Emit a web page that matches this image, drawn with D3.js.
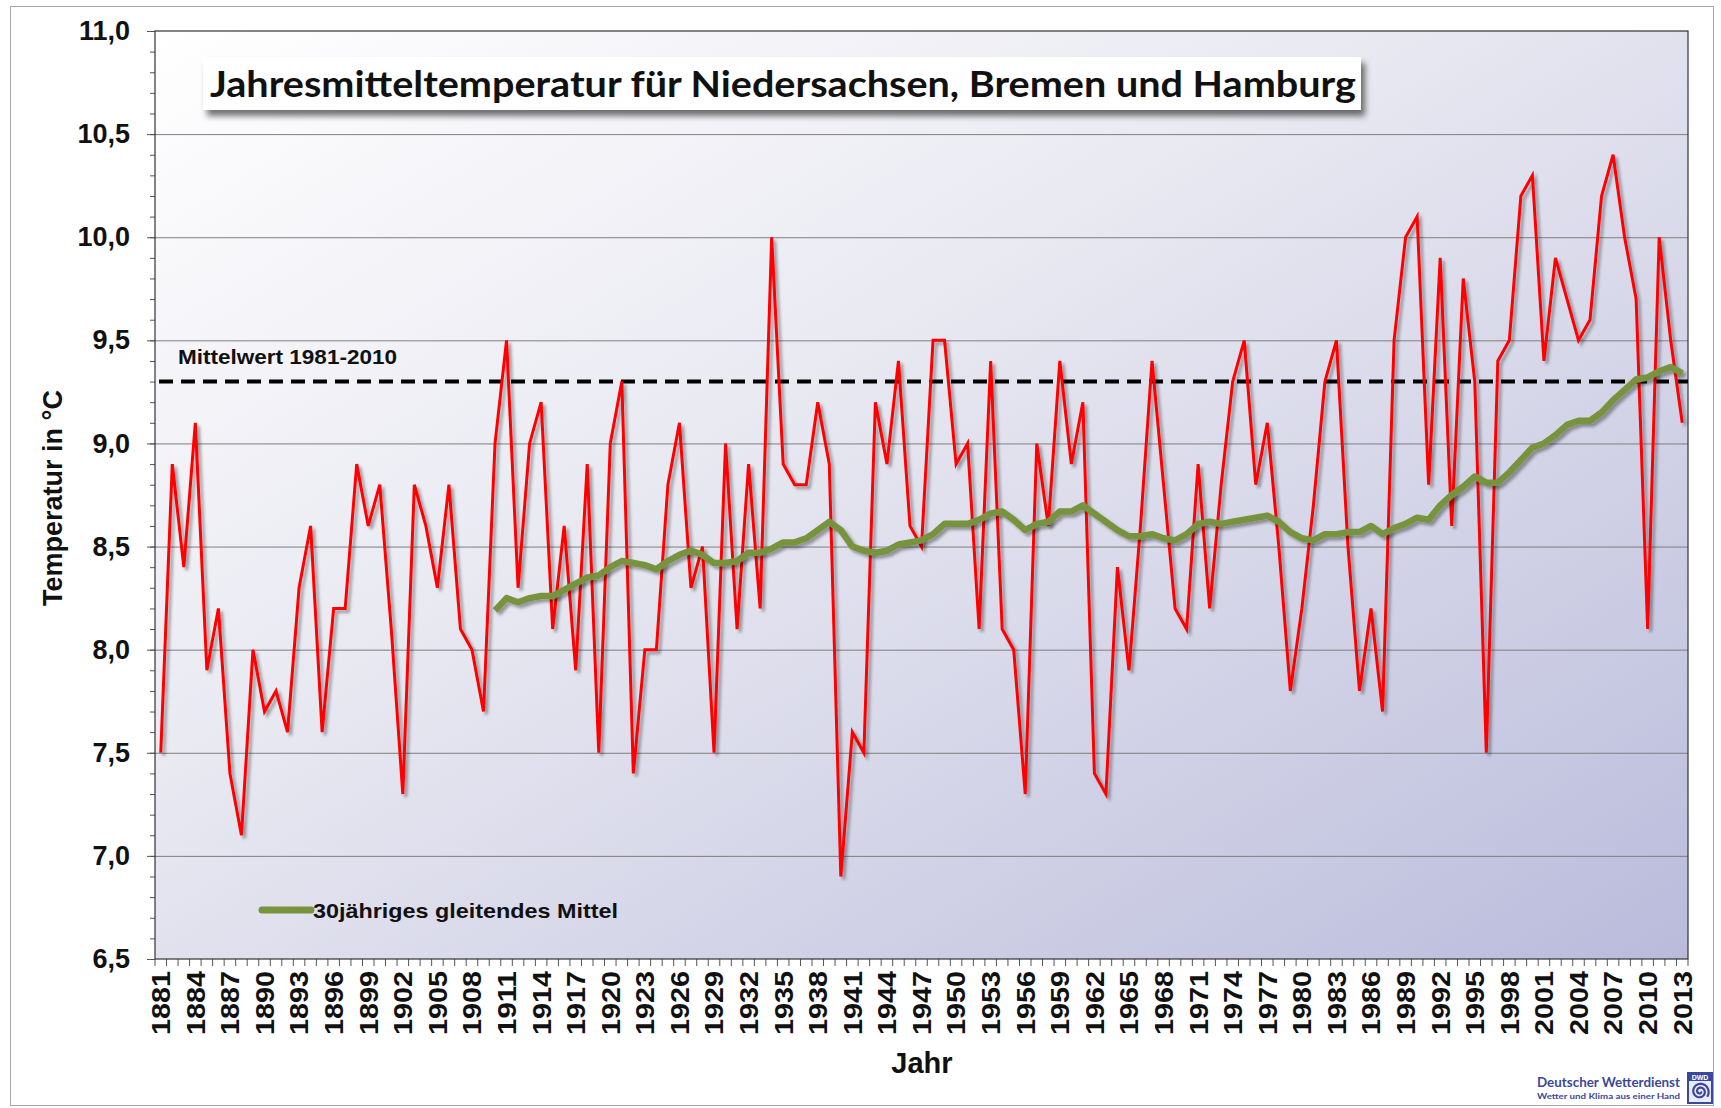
<!DOCTYPE html>
<meta charset="utf-8">
<script src="https://d3js.org/d3.v7.min.js"></script>
<style>
body { margin: 0; background: #fff; }
text { font-family: "Liberation Sans", Arial, sans-serif; font-weight: bold; fill: #111; }
.grid line { stroke: #7f7f7f; stroke-width: 1; }
.grid path { display: none; }
</style>
<body>
<script>
// Jahresmitteltemperatur Niedersachsen, Bremen und Hamburg
const years = d3.range(1881, 2014);
const temps = [
  7.5, 8.9, 8.4, 9.1, 7.9, 8.2, 7.4, 7.1, 8.0, 7.7,   // 1881-1890
  7.8, 7.6, 8.3, 8.6, 7.6, 8.2, 8.2, 8.9, 8.6, 8.8,   // 1891-1900
  8.1, 7.3, 8.8, 8.6, 8.3, 8.8, 8.1, 8.0, 7.7, 9.0,   // 1901-1910
  9.5, 8.3, 9.0, 9.2, 8.1, 8.6, 7.9, 8.9, 7.5, 9.0,   // 1911-1920
  9.3, 7.4, 8.0, 8.0, 8.8, 9.1, 8.3, 8.5, 7.5, 9.0,   // 1921-1930
  8.1, 8.9, 8.2, 10.0, 8.9, 8.8, 8.8, 9.2, 8.9, 6.9,  // 1931-1940
  7.6, 7.5, 9.2, 8.9, 9.4, 8.6, 8.5, 9.5, 9.5, 8.9,   // 1941-1950
  9.0, 8.1, 9.4, 8.1, 8.0, 7.3, 9.0, 8.6, 9.4, 8.9,   // 1951-1960
  9.2, 7.4, 7.3, 8.4, 7.9, 8.6, 9.4, 8.8, 8.2, 8.1,   // 1961-1970
  8.9, 8.2, 8.8, 9.3, 9.5, 8.8, 9.1, 8.5, 7.8, 8.2,   // 1971-1980
  8.7, 9.3, 9.5, 8.5, 7.8, 8.2, 7.7, 9.5, 10.0, 10.1, // 1981-1990
  8.8, 9.9, 8.6, 9.8, 9.3, 7.5, 9.4, 9.5, 10.2, 10.3, // 1991-2000
  9.4, 9.9, 9.7, 9.5, 9.6, 10.2, 10.4, 10.0, 9.7, 8.1,// 2001-2010
  10.0, 9.5, 9.1                                      // 2011-2013
];
// 30jähriges gleitendes Mittel, first value at 1910
const meanYears = d3.range(1910, 2014);
const mean30 = [
  8.19, 8.25, 8.23, 8.25, 8.26, 8.26, 8.29, 8.32, 8.35, 8.36, // 1910-1919
  8.40, 8.43, 8.42, 8.41, 8.39, 8.43, 8.46, 8.48, 8.46, 8.42, // 1920-1929
  8.42, 8.43, 8.47, 8.47, 8.49, 8.52, 8.52, 8.54, 8.58, 8.62, // 1930-1939
  8.58, 8.50, 8.48, 8.47, 8.48, 8.51, 8.52, 8.53, 8.56, 8.61, // 1940-1949
  8.61, 8.61, 8.63, 8.66, 8.67, 8.63, 8.58, 8.61, 8.62, 8.67, // 1950-1959
  8.67, 8.70, 8.66, 8.62, 8.58, 8.55, 8.55, 8.56, 8.54, 8.53, // 1960-1969
  8.56, 8.61, 8.62, 8.61, 8.62, 8.63, 8.64, 8.65, 8.62, 8.57, // 1970-1979
  8.54, 8.53, 8.56, 8.56, 8.57, 8.57, 8.60, 8.56, 8.59, 8.61, // 1980-1989
  8.64, 8.63, 8.70, 8.75, 8.79, 8.84, 8.81, 8.81, 8.86, 8.92, // 1990-1999
  8.98, 9.00, 9.04, 9.09, 9.11, 9.11, 9.15, 9.21, 9.26, 9.31, // 2000-2009
  9.32, 9.35, 9.37, 9.34                                      // 2010-2013
];
const refMean = 9.3; // Mittelwert 1981-2010
const yMajor = [6.5, 7.0, 7.5, 8.0, 8.5, 9.0, 9.5, 10.0, 10.5, 11.0];
const labelYears = years.filter((d, i) => i % 3 === 0);

const W = 1721, H = 1108;
const pLeft = 155, pRight = 1688, pTop = 31, pBottom = 959;
const titleFont = "Lato, 'Open Sans', sans-serif";

const de = d3.formatLocale({decimal: ",", thousands: ".", grouping: [3], currency: ["", " €"]});
const fmt = de.format(".1f");

const svg = d3.select("body").append("svg").attr("width", W).attr("height", H);
const defs = svg.append("defs");

const grad = defs.append("linearGradient").attr("id", "bg")
  .attr("x1", 0).attr("y1", 0).attr("x2", 1).attr("y2", 1);
grad.append("stop").attr("offset", 0).attr("stop-color", "#ffffff");
grad.append("stop").attr("offset", 0.4).attr("stop-color", "#e9e9f2");
grad.append("stop").attr("offset", 1).attr("stop-color", "#babbdb");

const sh = defs.append("filter").attr("id", "lineShadow")
  .attr("x", "-5%").attr("y", "-5%").attr("width", "110%").attr("height", "110%");
sh.append("feDropShadow").attr("dx", 3).attr("dy", 3).attr("stdDeviation", 1.6)
  .attr("flood-color", "#000").attr("flood-opacity", 0.35);

const boxSh = defs.append("filter").attr("id", "boxShadow")
  .attr("x", "-5%").attr("y", "-30%").attr("width", "110%").attr("height", "160%");
boxSh.append("feDropShadow").attr("dx", 4).attr("dy", 6).attr("stdDeviation", 3)
  .attr("flood-color", "#000").attr("flood-opacity", 0.55);

// outer frame
svg.append("rect").attr("x", 10.5).attr("y", 6.5).attr("width", 1703).attr("height", 1099)
  .attr("fill", "#fff").attr("stroke", "#a6a6a6");

const x = d3.scaleBand().domain(years).range([pLeft, pRight]);
const y = d3.scaleLinear().domain([6.5, 11]).range([pBottom, pTop]);
const cx = d => x(d) + x.bandwidth() / 2;

// plot background
svg.append("rect").attr("x", pLeft).attr("y", pTop)
  .attr("width", pRight - pLeft).attr("height", pBottom - pTop)
  .attr("fill", "url(#bg)");

// gridlines
svg.append("g").attr("class", "grid")
  .attr("transform", `translate(${pLeft},0)`)
  .call(d3.axisLeft(y).tickValues(yMajor.slice(1, -1)).tickSize(-(pRight - pLeft)).tickFormat(""));

// y axis: minor ticks, then major ticks with labels
svg.append("g").attr("transform", `translate(${pLeft},0)`)
  .call(d3.axisLeft(y).tickValues(d3.range(65, 111).map(v => v / 10)).tickSize(5).tickFormat(""))
  .call(g => g.select(".domain").remove())
  .call(g => g.selectAll("line").attr("stroke", "#555"));

svg.append("g").attr("transform", `translate(${pLeft},0)`)
  .call(d3.axisLeft(y).tickValues(yMajor).tickSize(8).tickPadding(17).tickFormat(fmt))
  .call(g => g.select(".domain").remove())
  .call(g => g.selectAll("line").attr("stroke", "#555"))
  .call(g => g.selectAll("text").attr("font-size", 27).attr("font-family", null).attr("fill", "#111"));

// x axis: boundary ticks and rotated year labels
svg.append("g").selectAll("line")
  .data(years)
  .join("line")
  .attr("x1", d => x(d)).attr("x2", d => x(d))
  .attr("y1", pBottom).attr("y2", pBottom + 7)
  .attr("stroke", "#555");
svg.append("line").attr("x1", pRight).attr("x2", pRight)
  .attr("y1", pBottom).attr("y2", pBottom + 7).attr("stroke", "#555");

svg.append("g").attr("transform", `translate(0,${pBottom})`)
  .call(d3.axisBottom(x).tickValues(labelYears).tickSize(0).tickPadding(0))
  .call(g => g.select(".domain").remove())
  .call(g => g.selectAll("text")
    .attr("font-size", 26).attr("font-family", null).attr("fill", "#111")
    .attr("transform", "rotate(-90)")
    .attr("x", -12).attr("y", 0).attr("dy", "0.36em")
    .attr("text-anchor", "end")
    .attr("textLength", 64).attr("lengthAdjust", "spacingAndGlyphs"));

// plot border
svg.append("rect").attr("x", pLeft).attr("y", pTop)
  .attr("width", pRight - pLeft).attr("height", pBottom - pTop)
  .attr("fill", "none").attr("stroke", "#333").attr("stroke-width", 1.2);

// reference mean 1981-2010
svg.append("line")
  .attr("x1", pLeft + 4).attr("x2", pRight)
  .attr("y1", y(refMean)).attr("y2", y(refMean))
  .attr("stroke", "#000").attr("stroke-width", 4).attr("stroke-dasharray", "14,8");
svg.append("text").attr("x", 178).attr("y", 364)
  .attr("font-size", 21).attr("textLength", 219).attr("lengthAdjust", "spacingAndGlyphs")
  .text("Mittelwert 1981-2010");

// annual means
const line = d3.line().x((d, i) => cx(years[i])).y(d => y(d));
svg.append("path").datum(temps)
  .attr("d", line)
  .attr("fill", "none").attr("stroke", "#ff0000").attr("stroke-width", 3)
  .attr("stroke-linejoin", "miter").attr("filter", "url(#lineShadow)");

// 30-year running mean
const mline = d3.line().x((d, i) => cx(meanYears[i])).y(d => y(d));
svg.append("path").datum(mean30)
  .attr("d", mline)
  .attr("fill", "none").attr("stroke", "#77933c").attr("stroke-width", 6.5)
  .attr("stroke-linejoin", "round").attr("filter", "url(#lineShadow)");

// legend
svg.append("line").attr("x1", 262).attr("x2", 311).attr("y1", 910).attr("y2", 910)
  .attr("stroke", "#77933c").attr("stroke-width", 7).attr("stroke-linecap", "round");
svg.append("text").attr("x", 313).attr("y", 918)
  .attr("font-size", 21).attr("textLength", 305).attr("lengthAdjust", "spacingAndGlyphs")
  .text("30jähriges gleitendes Mittel");

// title box
svg.append("rect").attr("x", 203).attr("y", 57).attr("width", 1158).attr("height", 53)
  .attr("fill", "#fff").attr("filter", "url(#boxShadow)");
svg.append("text").attr("x", 210).attr("y", 97)
  .style("font-family", titleFont).attr("font-size", 37)
  .attr("textLength", 1146).attr("lengthAdjust", "spacingAndGlyphs")
  .text("Jahresmitteltemperatur für Niedersachsen, Bremen und Hamburg");

// axis titles
svg.append("text").attr("x", 922).attr("y", 1073).attr("text-anchor", "middle")
  .attr("font-size", 29).text("Jahr");
svg.append("text").attr("transform", "translate(62,498) rotate(-90)")
  .attr("text-anchor", "middle").attr("font-size", 27).text("Temperatur in °C");

// DWD logo
const blue = "#3b479b";
svg.append("text").attr("x", 1537).attr("y", 1087)
  .style("font-family", titleFont).attr("font-size", 13)
  .attr("textLength", 143).attr("lengthAdjust", "spacingAndGlyphs")
  .style("fill", blue).text("Deutscher Wetterdienst");
svg.append("text").attr("x", 1537).attr("y", 1099)
  .style("font-family", titleFont).attr("font-size", 8)
  .attr("textLength", 143).attr("lengthAdjust", "spacingAndGlyphs")
  .style("fill", blue).text("Wetter und Klima aus einer Hand");
const logo = svg.append("g").attr("transform", "translate(1687,1072)");
logo.append("rect").attr("width", 26).attr("height", 32).attr("fill", blue);
logo.append("text").attr("x", 13).attr("y", 7.5).attr("text-anchor", "middle")
  .attr("font-size", 7).style("fill", "#fff").text("DWD");
logo.append("rect").attr("x", 2).attr("y", 9).attr("width", 22).attr("height", 21).attr("fill", "#e8ecf8");
const spiral = d3.range(0, 60).map(i => {
  const a = i / 59 * Math.PI * 4.2, r = 1 + i / 59 * 8;
  return [13 + r * Math.cos(a), 19.5 + r * Math.sin(a)];
});
logo.append("path").attr("d", d3.line()(spiral))
  .attr("fill", "none").attr("stroke", blue).attr("stroke-width", 2.2);
</script>
</body>
